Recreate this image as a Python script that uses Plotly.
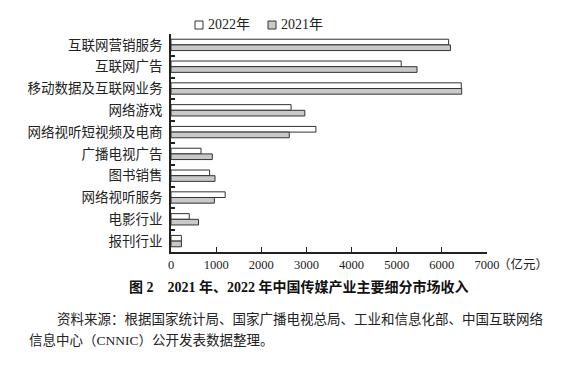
import plotly.graph_objects as go

categories = ["互联网营销服务", "互联网广告", "移动数据及互联网业务", "网络游戏", "网络视听短视频及电商",
              "广播电视广告", "图书销售", "网络视听服务", "电影行业", "报刊行业"]
values_2022 = [6150, 5100, 6430, 2660, 3210, 665, 855, 1200, 405, 230]
values_2021 = [6190, 5450, 6440, 2965, 2620, 915, 975, 960, 610, 230]
x_ticks = [0, 1000, 2000, 3000, 4000, 5000, 6000, 7000]
series_names = ["2022年", "2021年"]
series_fill = ["white", "#c9c9c9"]

FONT = "Liberation Serif, Noto Sans CJK SC, serif"
L, R, T, B = 171, 82, 34, 117
W, H = 569, 369
pw, ph = W - L - R, H - T - B

def px(x):
    return (x - L) / pw

def py(y):
    return (H - B - y) / ph

fig = go.Figure()
for name, vals, fill in zip(series_names, [values_2022, values_2021], series_fill):
    fig.add_trace(go.Bar(y=categories, x=vals, orientation="h", name=name,
                         marker=dict(color=fill, line=dict(color="#333333", width=1))))

fig.update_layout(
    width=W, height=H,
    margin=dict(l=L, r=R, t=T, b=B),
    paper_bgcolor="white", plot_bgcolor="white",
    barmode="group", bargap=0.48, bargroupgap=0,
    font=dict(family=FONT, size=13, color="#222222"),
    showlegend=False,
)
fig.update_xaxes(range=[0, 7000], tickvals=x_ticks, ticktext=[str(v) for v in x_ticks],
                 ticks="inside", ticklen=5, tickcolor="#222", tickwidth=1.2,
                 showline=True, linecolor="#222", linewidth=1.5, showgrid=False,
                 zeroline=False, tickfont=dict(size=12.5, family=FONT), automargin=False)
fig.update_yaxes(autorange="reversed", ticks="inside", tickson="boundaries", ticklen=4,
                 tickcolor="#222", tickwidth=1.5, showline=True, linecolor="#222", linewidth=1.5,
                 showgrid=False, tickfont=dict(size=13.5, family=FONT), ticklabelstandoff=4,
                 automargin=False)

# manual legend
for i, (name, fill) in enumerate(zip(series_names, series_fill)):
    x0 = [195, 268][i]
    fig.add_shape(type="rect", xref="paper", yref="paper",
                  x0=px(x0), x1=px(x0 + 8), y0=py(29), y1=py(21),
                  fillcolor=fill, line=dict(color="#333333", width=1))
    fig.add_annotation(text=name, xref="paper", yref="paper", x=px(x0 + 11), y=py(25),
                       xanchor="left", yanchor="middle", showarrow=False,
                       font=dict(size=14, family=FONT))

fig.add_annotation(text="（亿元）", xref="paper", yref="paper", x=px(496), y=py(264),
                   xanchor="left", yanchor="middle", showarrow=False, font=dict(size=12.5, family=FONT))
fig.add_annotation(text="<b>图 2　2021 年、2022 年中国传媒产业主要细分市场收入</b>", xref="paper", yref="paper",
                   x=px(299), y=py(287), xanchor="center", yanchor="middle", showarrow=False,
                   font=dict(size=14, family=FONT, color="#111"))
fig.add_annotation(text="资料来源：根据国家统计局、国家广播电视总局、工业和信息化部、中国互联网络",
                   xref="paper", yref="paper", x=px(55), y=py(319), xanchor="left", yanchor="middle",
                   showarrow=False, font=dict(size=13.5, family=FONT))
fig.add_annotation(text="信息中心（CNNIC）公开发表数据整理。",
                   xref="paper", yref="paper", x=px(27), y=py(340), xanchor="left", yanchor="middle",
                   showarrow=False, font=dict(size=13.5, family=FONT))

fig.write_html("out.html", post_script="document.body.style.margin='0';",
               config={"displayModeBar": False})
